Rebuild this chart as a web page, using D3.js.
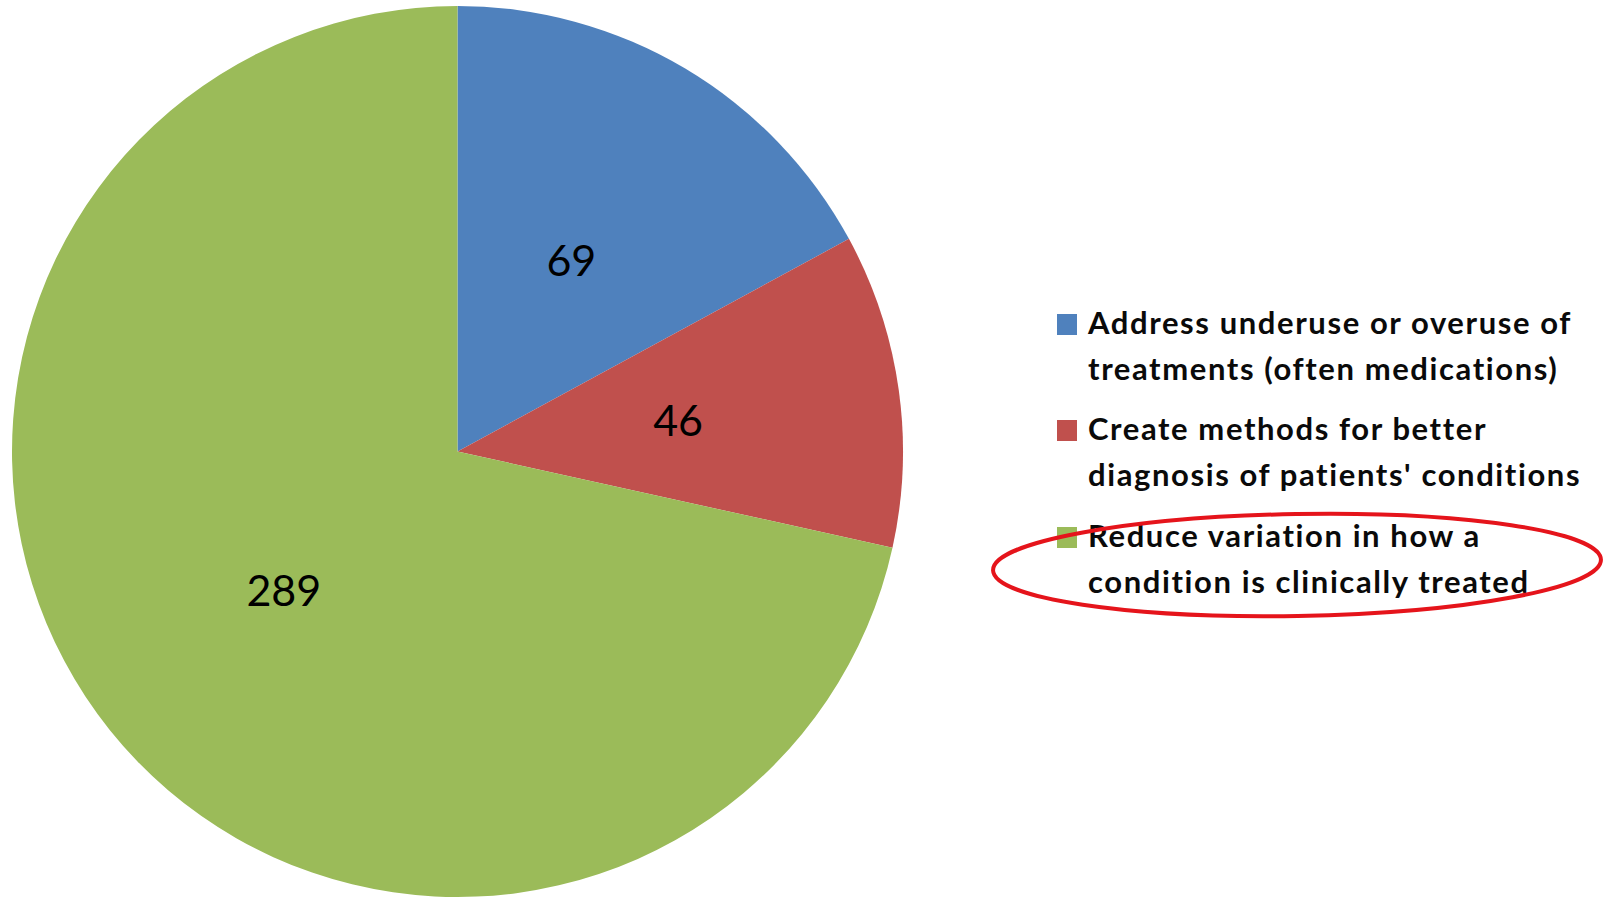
<!DOCTYPE html>
<html>
<head>
<meta charset="utf-8">
<script src="https://cdn.jsdelivr.net/npm/d3@7/dist/d3.min.js"></script>
<style>
  html, body { margin: 0; padding: 0; background: #fff; }
  svg { display: block; }
</style>
</head>
<body>
<svg id="chart" width="1608" height="899"></svg>
<script>
// Category names (legend lines), counts and slice colours
const categories = [
  ["Address underuse or overuse of", "treatments (often medications)"],
  ["Create methods for better", "diagnosis of patients' conditions"],
  ["Reduce variation in how a", "condition is clinically treated"]
];
const counts = [69, 46, 289];
const sliceColors = ["#4f81bd", "#c0504d", "#9bbb59"];

const svg = d3.select("#chart");
const cx = 457.5, cy = 451.5, R = 445.5;

const pie = d3.pie().sort(null).value(d => d);
const arcs = pie(counts);
const arc = d3.arc().innerRadius(0).outerRadius(R);
const labelArc = d3.arc().innerRadius(R * 0.5).outerRadius(R * 0.5);

const g = svg.append("g").attr("transform", `translate(${cx},${cy})`);

g.selectAll("path.slice")
  .data(arcs)
  .join("path")
  .attr("class", "slice")
  .attr("d", arc)
  .attr("fill", (d, i) => sliceColors[i]);

g.selectAll("text.val")
  .data(arcs)
  .join("text")
  .attr("class", "val")
  .attr("transform", d => `translate(${labelArc.centroid(d)})`)
  .attr("text-anchor", "middle")
  .attr("dy", "0.36em")
  .attr("font-family", "Lato, 'Open Sans', sans-serif")
  .attr("font-size", 43)
  .attr("fill", "#000")
  .text(d => d.data);

// Legend
const legend = svg.append("g").attr("transform", "translate(1057,0)");
const entryBaselines = [334, 440, 547];
const lineGap = 45.5;

categories.forEach((lines, i) => {
  const b = entryBaselines[i];
  legend.append("rect")
    .attr("x", 0)
    .attr("y", b - 20)
    .attr("width", 20)
    .attr("height", 21)
    .attr("fill", sliceColors[i]);
  const t = legend.append("text")
    .attr("x", 31)
    .attr("y", b)
    .attr("font-family", "Lato, 'Open Sans', sans-serif")
    .attr("font-weight", "bold")
    .attr("font-size", 31)
    .attr("letter-spacing", 1.6)
    .attr("fill", "#0a0a0a");
  lines.forEach((ln, j) => {
    t.append("tspan").attr("x", 31).attr("y", b + j * lineGap).text(ln);
  });
});

// Hand-drawn highlight around the third legend entry
svg.append("ellipse")
  .attr("cx", 1297)
  .attr("cy", 565)
  .attr("rx", 304)
  .attr("ry", 51)
  .attr("transform", "rotate(-1 1297 565)")
  .attr("fill", "none")
  .attr("stroke", "#e5141b")
  .attr("stroke-width", 4);
</script>
</body>
</html>
